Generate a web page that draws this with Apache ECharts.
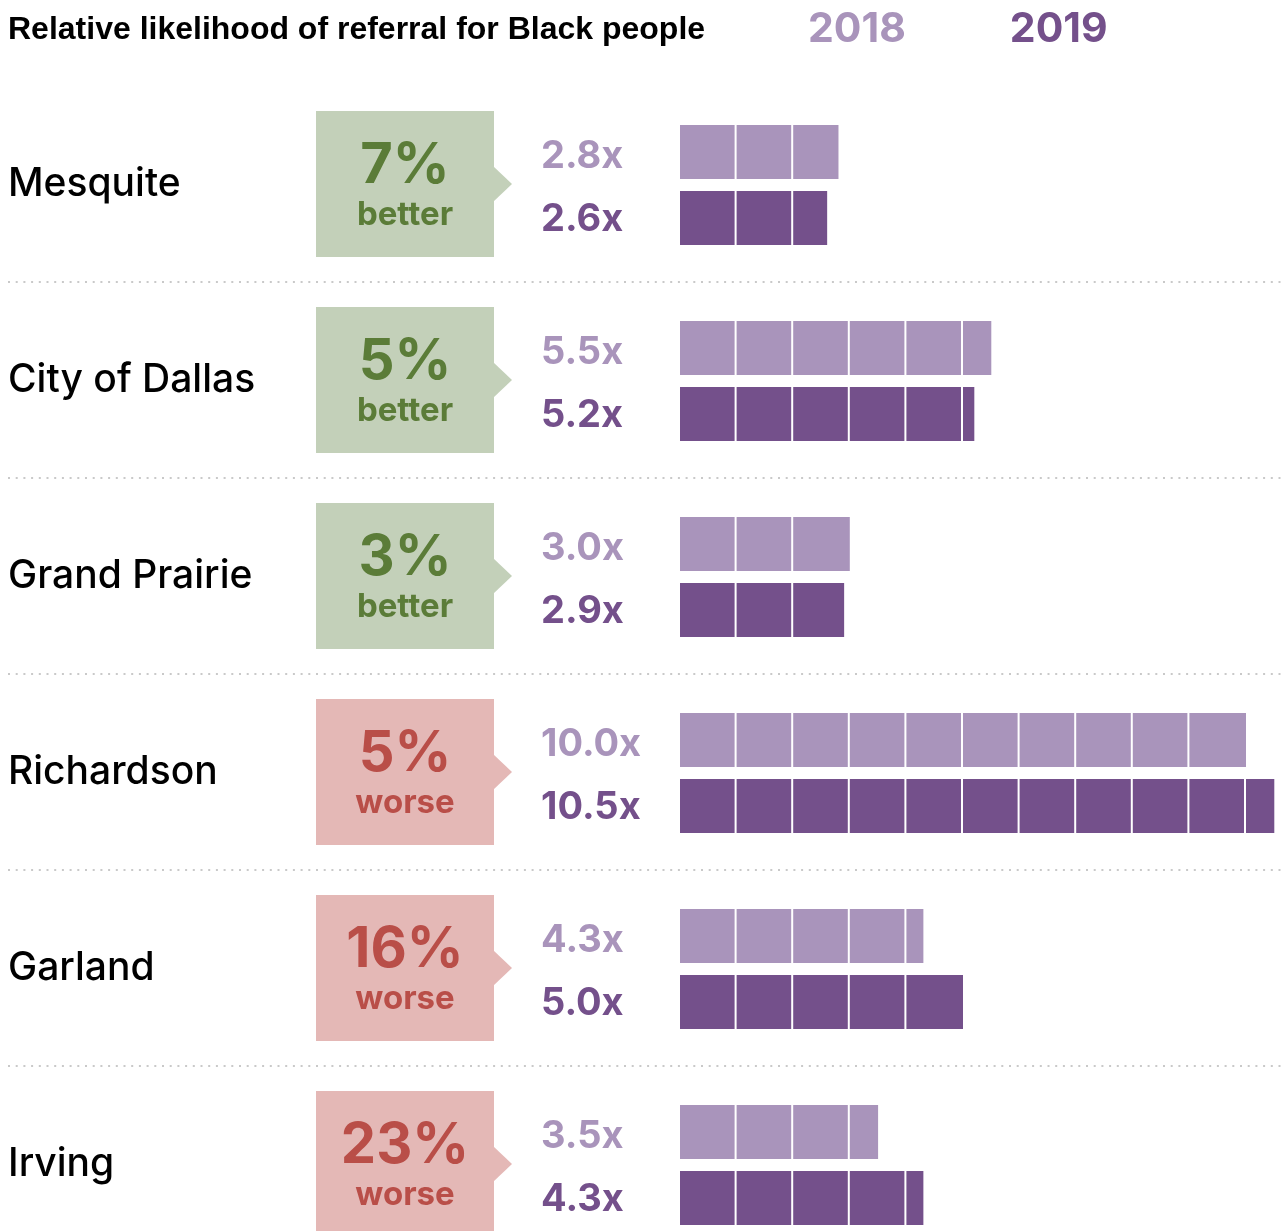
<!DOCTYPE html>
<html>
<head>
<meta charset="utf-8">
<script src="https://cdn.jsdelivr.net/npm/echarts@6/dist/echarts.min.js"></script>
<style>
  html, body { margin: 0; background: #fff; }
  #chart { width: 1283px; height: 1231px; }
</style>
</head>
<body>
<div id="chart"></div>
<script>
// 数据
const cities = ['Mesquite', 'City of Dallas', 'Grand Prairie', 'Richardson', 'Garland', 'Irving']
const years = ['2018', '2019']
const values2018 = [2.8, 5.5, 3.0, 10.0, 4.3, 3.5]
const values2019 = [2.6, 5.2, 2.9, 10.5, 5.0, 4.3]
const changePct = [7, 5, 3, 5, 16, 23]
const changeDir = ['better', 'better', 'better', 'worse', 'worse', 'worse']

const font = 'Inter, "Helvetica Neue", Arial, sans-serif'
const light = '#a994bb'
const dark = '#74508b'
const boxColor = { better: '#c3d0b9', worse: '#e4b8b6' }
const textColor = { better: '#5b7c38', worse: '#b94e48' }

// 每一格 = 1x，格子之间留白
function barRender(barOffset, labelOffset, fill) {
  return function(params, api) {
    const v = api.value(0)
    const row = api.value(1)
    const cy = api.coord([0, row])[1]
    const children = []
    const n = Math.ceil(v - 1e-9)
    for (let k = 0; k < n; k++) {
      const end = Math.min(k + 1, v)
      const x0 = api.coord([k, row])[0]
      const x1 = api.coord([end, row])[0]
      const gap = end < v ? 2 : 0
      children.push({
        type: 'rect',
        shape: { x: x0, y: cy + barOffset - 27, width: x1 - x0 - gap, height: 54 },
        style: { fill: fill }
      })
    }
    children.push({
      type: 'text',
      style: {
        text: v.toFixed(1) + 'x',
        x: 541,
        y: cy + labelOffset,
        fill: fill,
        fontFamily: font,
        fontWeight: 700,
        fontSize: 38,
        align: 'left',
        verticalAlign: 'middle'
      }
    })
    return { type: 'group', children: children }
  }
}

function boxRender(params, api) {
  const row = api.value(1)
  const pct = api.value(2)
  const dir = changeDir[params.dataIndex]
  const cy = api.coord([0, row])[1]
  const half = api.size([0, 1])[1] / 2
  const children = [
    {
      type: 'rect',
      shape: { x: 316, y: cy - 73, width: 178, height: 146 },
      style: { fill: boxColor[dir] }
    },
    {
      type: 'polygon',
      shape: { points: [[493, cy - 18], [512, cy], [493, cy + 18]] },
      style: { fill: boxColor[dir] }
    },
    {
      type: 'text',
      style: {
        text: pct + '%', x: 405, y: cy - 18, fill: textColor[dir],
        fontFamily: font, fontWeight: 700, fontSize: 56, align: 'center', verticalAlign: 'middle'
      }
    },
    {
      type: 'text',
      style: {
        text: dir, x: 405, y: cy + 31, fill: textColor[dir],
        fontFamily: font, fontWeight: 700, fontSize: 33, align: 'center', verticalAlign: 'middle'
      }
    }
  ]
  if (params.dataIndex < cities.length - 1) {
    children.push({
      type: 'line',
      shape: { x1: 8, y1: cy + half, x2: 1283, y2: cy + half },
      style: { stroke: '#c9c9c9', lineWidth: 2, lineDash: [2, 5.7] }
    })
  }
  return { type: 'group', children: children }
}

const chart = echarts.init(document.getElementById('chart'))
chart.setOption({
  animation: false,
  title: {
    text: 'Relative likelihood of referral for Black people',
    left: 8,
    top: 14,
    padding: 0,
    textStyle: { fontFamily: '"Liberation Sans", Arial, sans-serif', fontWeight: 700, fontSize: 32, color: '#000' }
  },
  legend: {
    left: 803,
    top: 9,
    padding: 0,
    itemGap: 99,
    itemWidth: 0,
    itemHeight: 0,
    selectedMode: false,
    data: [
      { name: years[0], textStyle: { color: light } },
      { name: years[1], textStyle: { color: dark } }
    ],
    textStyle: { fontFamily: font, fontWeight: 700, fontSize: 41 }
  },
  grid: { left: 680, top: 86, width: 594.3, height: 1176, outerBoundsMode: 'none' },
  xAxis: { type: 'value', min: 0, max: 10.5, show: false },
  yAxis: {
    type: 'category',
    inverse: true,
    data: cities,
    axisLine: { show: false },
    axisTick: { show: false },
    splitLine: { show: false },
    axisLabel: {
      align: 'left',
      margin: 672,
      padding: [4, 0, 0, 0],
      fontFamily: font,
      fontWeight: 500,
      fontSize: 39,
      color: '#000'
    }
  },
  series: [
    {
      name: 'change',
      type: 'custom',
      renderItem: boxRender,
      encode: { x: 0, y: 1 },
      data: changePct.map((p, i) => [0, i, p]),
      silent: true
    },
    {
      name: years[0],
      type: 'custom',
      color: light,
      renderItem: barRender(-32, -27, light),
      encode: { x: 0, y: 1 },
      data: values2018.map((v, i) => [v, i])
    },
    {
      name: years[1],
      type: 'custom',
      color: dark,
      renderItem: barRender(34, 36, dark),
      encode: { x: 0, y: 1 },
      data: values2019.map((v, i) => [v, i])
    }
  ]
})
</script>
</body>
</html>
